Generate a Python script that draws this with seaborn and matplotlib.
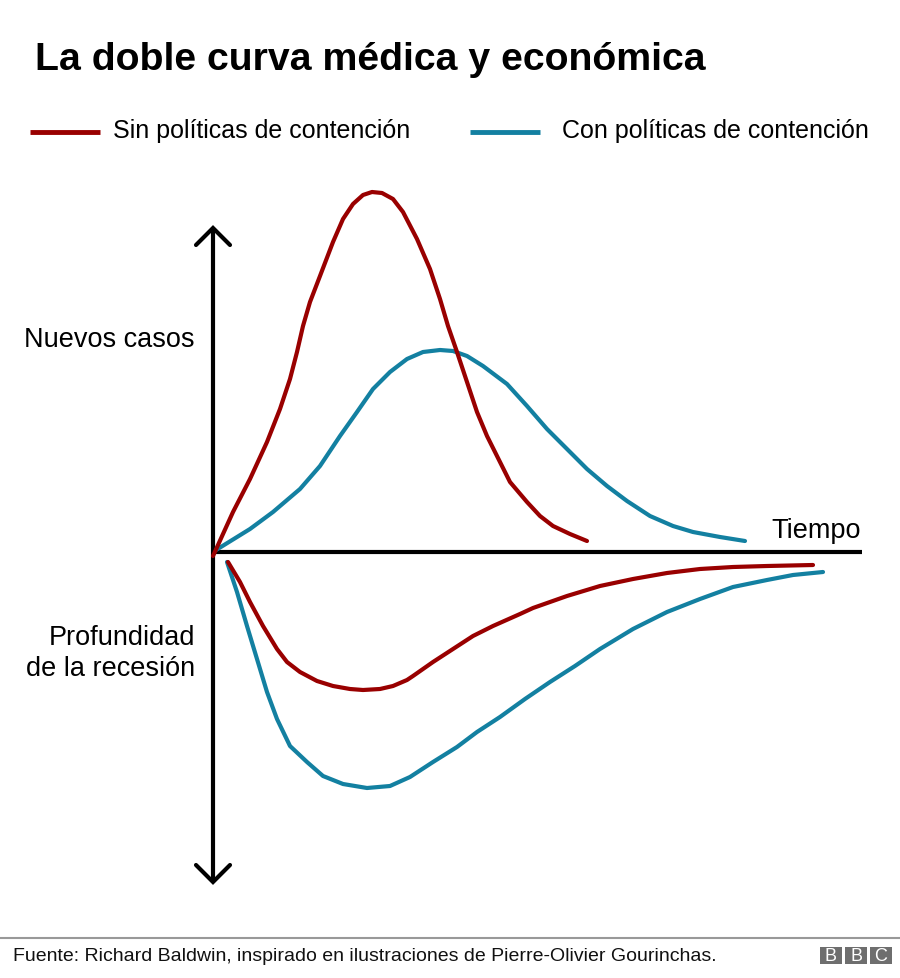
import numpy as np
import pandas as pd
import matplotlib
matplotlib.use("Agg")
import matplotlib.pyplot as plt
import seaborn as sns
from matplotlib.patches import Rectangle

# ---- Data (time units from origin, value units: + new cases / - recession depth) ----
sin_casos_t = [0, 20, 37, 54, 67, 77, 84, 90, 97, 107, 120, 130, 140, 150, 159, 169, 180, 190,
               204, 217, 227, 235, 244, 254, 264, 274, 287, 297, 314, 327, 340, 357, 374]
sin_casos_v = [-4, 40, 73, 110, 143, 173, 200, 226, 250, 276, 310, 333, 348, 357, 360, 359, 353, 340,
               313, 283, 253, 226, 200, 170, 140, 116, 90, 70, 50, 36, 26, 18, 11]

con_casos_t = [3, 37, 60, 87, 107, 127, 144, 160, 177, 194, 210, 227, 240, 254, 270, 294, 314,
               334, 354, 374, 394, 414, 437, 460, 480, 507, 532]
con_casos_v = [2, 23, 40, 63, 86, 116, 140, 163, 180, 193, 200, 202, 201, 196, 186, 168, 146,
               123, 103, 83, 66, 51, 36, 26, 20, 15, 11]

sin_recesion_t = [15, 27, 37, 50, 64, 74, 87, 104, 120, 137, 150, 167, 180, 194, 200, 220, 240,
                  260, 280, 307, 320, 354, 387, 420, 454, 487, 520, 554, 600]
sin_recesion_v = [-10, -30, -50, -74, -97, -110, -120, -129, -134, -137, -138, -137, -134, -128, -124,
                  -110, -97, -84, -74, -62, -56, -44, -34, -27, -21, -17, -15, -14, -13]

con_recesion_t = [14, 24, 34, 44, 54, 64, 77, 94, 110, 130, 154, 177, 197, 220, 244, 264, 287,
                  312, 337, 362, 387, 420, 454, 487, 520, 554, 580, 610]
con_recesion_v = [-10, -40, -74, -107, -140, -167, -194, -210, -224, -232, -236, -234, -225, -210,
                  -195, -180, -165, -147, -130, -114, -97, -77, -60, -47, -35, -28, -23, -20]

series_labels = ["Sin políticas de contención", "Con políticas de contención"]
title = "La doble curva médica y económica"
label_casos = "Nuevos casos"
label_recesion = "Profundidad\nde la recesión"
label_tiempo = "Tiempo"
source = "Fuente: Richard Baldwin, inspirado en ilustraciones de Pierre-Olivier Gourinchas."

RED = "#990000"
BLUE = "#1380A1"

def frame(t, v, serie, curva):
    return pd.DataFrame({"t": t, "v": v, "serie": serie, "curva": curva})

df = pd.concat([
    frame(sin_casos_t, sin_casos_v, series_labels[0], "casos_sin"),
    frame(con_casos_t, con_casos_v, series_labels[1], "casos_con"),
    frame(sin_recesion_t, sin_recesion_v, series_labels[0], "rec_sin"),
    frame(con_recesion_t, con_recesion_v, series_labels[1], "rec_con"),
], ignore_index=True)

sns.set_theme(style="white")
plt.rcParams["font.family"] = ["Liberation Sans", "DejaVu Sans"]

W, H = 900, 979
OX, OY = 213, 553  # pixel position of origin
fig = plt.figure(figsize=(W / 100, H / 100), dpi=100)
ax = fig.add_axes([0, 0, 1, 1])
ax.set_xlim(-OX, W - OX)
ax.set_ylim(OY - H, OY)
ax.axis("off")

def px(x, y):
    return x - OX, OY - y

# axes with arrows
ax.plot([0, 0], [px(0, 230)[1], px(0, 882)[1]], color="black", lw=3, solid_capstyle="butt", zorder=2)
ax.plot([0, px(862, 0)[0]], [0, 0], color="black", lw=3, solid_capstyle="butt", zorder=2)
top = px(213, 229)[1]
bot = px(213, 883)[1]
ax.plot([-17, 0, 17], [top - 17, top, top - 17], color="black", lw=3, solid_joinstyle="miter", zorder=2)
ax.plot([-17, 0, 17], [bot + 17, bot, bot + 17], color="black", lw=3, solid_joinstyle="miter", zorder=2)

# curves
for curva, sub in df.groupby("curva"):
    sns.lineplot(data=sub, x="t", y="v", hue="serie", sort=False, estimator=None,
                 palette={series_labels[0]: RED, series_labels[1]: BLUE},
                 lw=3, legend=False, ax=ax, zorder=3,
                 solid_capstyle="round", solid_joinstyle="round")

# texts
ax.text(*px(35, 60), title, fontsize=28.3, fontweight="bold", ha="left", va="center", color="black")
ax.plot([px(30, 0)[0], px(100, 0)[0]], [px(0, 133)[1]] * 2, color=RED, lw=3.5, solid_capstyle="butt")
ax.text(*px(113, 131), series_labels[0], fontsize=18, ha="left", va="center", color="black")
ax.plot([px(470, 0)[0], px(540, 0)[0]], [px(0, 133)[1]] * 2, color=BLUE, lw=3.5, solid_capstyle="butt")
ax.text(*px(562, 131), series_labels[1], fontsize=18, ha="left", va="center", color="black")

ax.text(*px(195, 340), label_casos, fontsize=19.5, ha="right", va="center", color="black")
ax.text(*px(195, 654), label_recesion, fontsize=19.5, ha="right", va="center", color="black",
        multialignment="right", linespacing=1.25)
ax.text(*px(861, 531), label_tiempo, fontsize=19.5, ha="right", va="center", color="black")

# footer
ax.plot([px(0, 0)[0], px(900, 0)[0]], [px(0, 939)[1]] * 2, color="#999999", lw=1.5)
ax.text(*px(13, 957), source, fontsize=14, ha="left", va="center", color="#111111")
for i, letter in enumerate("BBC"):
    x0 = 820 + i * 25
    x0d, y0d = px(x0, 965)
    ax.add_patch(Rectangle((x0d, y0d), 22, 17, facecolor="#6e6e6e", edgecolor="none"))
    ax.text(x0d + 11, y0d + 8.5, letter, fontsize=13, color="white", ha="center", va="center")

fig.savefig("out.png", dpi=100)
